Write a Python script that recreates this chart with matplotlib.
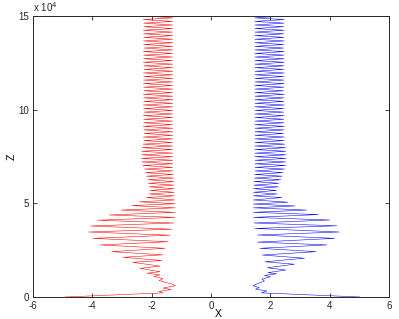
import matplotlib
matplotlib.use("Agg")
import matplotlib.pyplot as plt
import numpy as np

# Lower part of the red curve: turning points (z in units of 1e4, x)
red_lower_z = [0.00, 0.22, 0.30, 0.40, 0.48, 0.60, 0.68, 0.88, 0.98, 1.10, 1.18, 1.27, 1.35,
               1.53, 1.65, 1.85, 1.95, 2.12, 2.25, 2.42, 2.60, 2.78, 2.95, 3.13, 3.30, 3.47,
               3.62, 3.79, 3.95, 4.10, 4.25, 4.38, 4.52, 4.64, 4.76, 4.88, 4.98, 5.08, 5.18]
red_lower_x = [-4.92, -1.62, -1.75, -1.35, -1.62, -1.20, -1.30, -1.75, -1.62, -1.92, -1.72, -2.15, -1.72,
               -2.39, -1.72, -2.64, -1.66, -2.96, -1.63, -3.35, -1.55, -3.74, -1.44, -3.98, -1.38, -4.13,
               -1.32, -4.06, -1.25, -3.82, -1.22, -3.43, -1.21, -3.03, -1.21, -2.67, -1.21, -2.42, -1.22]

# Lower part of the blue curve
blue_lower_z = [0.00, 0.22, 0.32, 0.42, 0.50, 0.60, 0.70, 0.85, 0.95, 1.08, 1.15, 1.24, 1.30,
                1.44, 1.56, 1.75, 1.88, 2.07, 2.24, 2.42, 2.60, 2.78, 2.93, 3.13, 3.31, 3.47,
                3.66, 3.80, 3.95, 4.11, 4.25, 4.40, 4.52, 4.64, 4.76, 4.86, 4.96, 5.06, 5.18]
blue_lower_x = [5.02, 1.70, 1.88, 1.50, 1.62, 1.42, 1.55, 1.80, 1.72, 2.00, 1.80, 2.21, 1.92,
                2.52, 1.90, 2.81, 1.82, 3.15, 1.73, 3.54, 1.65, 3.91, 1.57, 4.17, 1.57, 4.33,
                1.48, 4.24, 1.45, 4.00, 1.43, 3.62, 1.43, 3.22, 1.43, 2.83, 1.43, 2.59, 1.43]

# Upper (dense oscillation) part: heights of turning points, shared by both curves
upper_tip_z = [5.31, 5.40, 5.50, 5.59, 5.69, 5.78, 5.88, 5.97, 6.07, 6.16, 6.26, 6.35, 6.45,
               6.54, 6.64, 6.73, 6.83, 6.92, 7.02, 7.11, 7.21, 7.30, 7.40, 7.49, 7.59, 7.68,
               7.78, 7.87, 7.97, 8.06, 8.16, 8.25, 8.35, 8.44, 8.54, 8.63, 8.73, 8.82, 8.92,
               9.01, 9.11, 9.20, 9.30, 9.39, 9.49, 9.58, 9.68, 9.77, 9.87, 9.96, 10.06, 10.15,
               10.25, 10.34, 10.44, 10.53, 10.63, 10.72, 10.82, 10.91, 11.01, 11.10, 11.20,
               11.29, 11.39, 11.48, 11.58, 11.67, 11.77, 11.86, 11.96, 12.05, 12.15, 12.24,
               12.34, 12.43, 12.53, 12.62, 12.72, 12.81, 12.91, 13.00, 13.10, 13.19, 13.29,
               13.38, 13.48, 13.57, 13.67, 13.76, 13.86, 13.95, 14.05, 14.14, 14.24, 14.33,
               14.43, 14.52, 14.62, 14.71, 14.81, 14.90, 15.00, 15.09]

red_upper_x = [-2.17, -1.24, -2.08, -1.24, -2.05, -1.24, -2.08, -1.25, -2.11, -1.25, -2.13, -1.26,
               -2.18, -1.27, -2.21, -1.28, -2.24, -1.29, -2.30, -1.29, -2.34, -1.29, -2.35, -1.29,
               -2.34, -1.29, -2.34, -1.29, -2.32, -1.29, -2.29, -1.29,
               -2.27, -1.29, -2.28, -1.29, -2.26, -1.29, -2.27, -1.29, -2.28, -1.29, -2.27, -1.29,
               -2.27, -1.29, -2.28, -1.29, -2.26, -1.29, -2.27, -1.29, -2.28, -1.29, -2.27, -1.29,
               -2.27, -1.29, -2.28, -1.29, -2.26, -1.29, -2.27, -1.29, -2.28, -1.29, -2.27, -1.29,
               -2.27, -1.29, -2.28, -1.29, -2.26, -1.29, -2.27, -1.29, -2.28, -1.29, -2.27, -1.29,
               -2.27, -1.29, -2.28, -1.29, -2.26, -1.29, -2.27, -1.29, -2.28, -1.29, -2.27, -1.29,
               -2.27, -1.29, -2.28, -1.29, -2.26, -1.29, -2.27, -1.29, -2.28, -1.29, -2.27, -1.29]

blue_upper_x = [2.39, 1.43, 2.22, 1.43, 2.21, 1.43, 2.27, 1.44, 2.29, 1.45, 2.35, 1.46,
                2.40, 1.47, 2.43, 1.48, 2.48, 1.48, 2.52, 1.48, 2.52, 1.48, 2.53, 1.48,
                2.53, 1.48, 2.52, 1.48, 2.52, 1.48, 2.49, 1.48,
                2.46, 1.48, 2.47, 1.48, 2.45, 1.48, 2.46, 1.48, 2.47, 1.48, 2.46, 1.48,
                2.46, 1.48, 2.47, 1.48, 2.45, 1.48, 2.46, 1.48, 2.47, 1.48, 2.46, 1.48,
                2.46, 1.48, 2.47, 1.48, 2.45, 1.48, 2.46, 1.48, 2.47, 1.48, 2.46, 1.48,
                2.46, 1.48, 2.47, 1.48, 2.45, 1.48, 2.46, 1.48, 2.47, 1.48, 2.46, 1.48,
                2.46, 1.48, 2.47, 1.48, 2.45, 1.48, 2.46, 1.48, 2.47, 1.48, 2.46, 1.48,
                2.46, 1.48, 2.47, 1.48, 2.45, 1.48, 2.46, 1.48, 2.47, 1.48, 2.46, 1.48]

x_ticks = [-6, -4, -2, 0, 2, 4, 6]
x_tick_labels = ['-6', '-4', '-2', '0', '2', '4', '6']
z_ticks = [0, 5, 10, 15]
z_tick_labels = ['0', '5', '10', '15']
z_scale = 1e4

red_z = np.array(red_lower_z + upper_tip_z) * z_scale
red_x = np.array(red_lower_x + red_upper_x)
blue_z = np.array(blue_lower_z + upper_tip_z) * z_scale
blue_x = np.array(blue_lower_x + blue_upper_x)

plt.rcParams['font.family'] = ['Liberation Sans', 'DejaVu Sans']

fig = plt.figure(figsize=(3.99, 3.19), dpi=100)
ax = fig.add_axes([33/399, 22/319, 356/399, 281/319])

ax.plot(red_x, red_z, color='#ff0000', lw=0.38)
ax.plot(blue_x, blue_z, color='#0000ff', lw=0.38)

ax.set_xlim(-6, 6)
ax.set_ylim(0, 15 * z_scale)
ax.set_xticks(x_ticks)
ax.set_xticklabels(x_tick_labels)
ax.set_yticks([t * z_scale for t in z_ticks])
ax.set_yticklabels(z_tick_labels)
ax.tick_params(direction='in', top=True, right=True, labelsize=7, length=3, width=0.6,
               colors='#262626', pad=3)
for s in ax.spines.values():
    s.set_linewidth(0.7)
    s.set_color('#262626')
ax.set_xlabel('X', fontsize=7.5)
ax.xaxis.set_label_coords(0.52, -0.042)
ax.set_ylabel('Z', fontsize=7.5)
ax.yaxis.set_label_coords(-0.045, 0.5)
ax.text(0.0, 1.008, 'x 10$^4$', transform=ax.transAxes, fontsize=7, ha='left', va='bottom',
        color='#262626')

fig.savefig('out.png', dpi=100)
